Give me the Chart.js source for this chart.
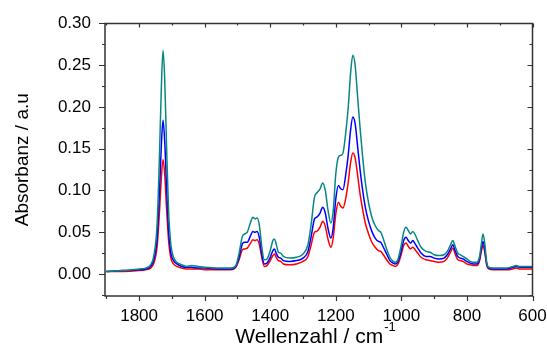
<!DOCTYPE html>
<html>
<head>
<meta charset="utf-8">
<script src="https://cdn.jsdelivr.net/npm/chart.js@4.4.1/dist/chart.umd.min.js"></script>
<style>
html,body{margin:0;padding:0;background:#fff;}
#wrap{width:547px;height:349px;position:relative;}
</style>
</head>
<body>
<div id="wrap"><canvas id="c" width="547" height="349"></canvas></div>
<script>
const wavenumbers = [1900,1850,1800,1780,1765,1755,1745,1738,1732,1727,1722,1716,1710,1703,1695,1685,1670,1655,1640,1620,1600,1560,1520,1505,1495,1485,1478,1470,1460,1453,1447,1440,1433,1425,1418,1410,1400,1392,1387,1382,1375,1368,1360,1340,1320,1300,1285,1275,1265,1258,1248,1240,1232,1224,1215,1208,1200,1192,1185,1178,1170,1162,1155,1148,1141,1134,1126,1118,1110,1100,1090,1080,1070,1063,1055,1045,1035,1025,1018,1010,1000,993,986,979,972,965,958,950,940,925,912,900,885,870,860,850,843,836,828,820,812,800,790,780,770,762,756,751,746,740,734,720,700,680,660,650,640,620,600];

const tealValues = [0.003,0.004,0.006,0.007,0.011,0.022,0.060,0.140,0.225,0.268,0.235,0.150,0.075,0.035,0.020,0.014,0.011,0.009,0.010,0.009,0.008,0.007,0.007,0.010,0.025,0.045,0.048,0.050,0.062,0.068,0.066,0.067,0.058,0.030,0.017,0.018,0.028,0.040,0.042,0.036,0.026,0.025,0.021,0.019,0.020,0.024,0.035,0.060,0.092,0.097,0.102,0.109,0.100,0.077,0.061,0.075,0.120,0.140,0.142,0.145,0.168,0.200,0.240,0.262,0.250,0.215,0.175,0.140,0.110,0.085,0.068,0.058,0.052,0.050,0.042,0.030,0.020,0.015,0.014,0.018,0.035,0.050,0.056,0.052,0.048,0.051,0.047,0.040,0.032,0.027,0.026,0.023,0.022,0.023,0.027,0.035,0.040,0.033,0.025,0.023,0.021,0.018,0.015,0.014,0.014,0.020,0.036,0.048,0.038,0.015,0.008,0.007,0.007,0.007,0.009,0.010,0.009,0.009,0.009];

const blueValues = [0.003,0.004,0.005,0.006,0.009,0.017,0.043,0.097,0.155,0.184,0.160,0.102,0.052,0.025,0.016,0.012,0.009,0.008,0.008,0.007,0.007,0.006,0.006,0.009,0.020,0.036,0.038,0.038,0.046,0.051,0.050,0.051,0.043,0.022,0.012,0.013,0.020,0.028,0.030,0.025,0.020,0.019,0.016,0.015,0.016,0.019,0.027,0.045,0.066,0.068,0.073,0.080,0.073,0.055,0.043,0.055,0.090,0.106,0.102,0.101,0.118,0.143,0.172,0.188,0.180,0.155,0.125,0.100,0.080,0.063,0.051,0.043,0.039,0.038,0.032,0.024,0.016,0.013,0.012,0.015,0.028,0.040,0.044,0.040,0.037,0.040,0.036,0.031,0.025,0.021,0.021,0.019,0.018,0.019,0.023,0.030,0.035,0.028,0.021,0.019,0.018,0.015,0.013,0.012,0.012,0.017,0.030,0.039,0.031,0.013,0.007,0.006,0.006,0.006,0.008,0.009,0.008,0.008,0.008];

const redValues = [0.003,0.003,0.004,0.005,0.007,0.013,0.033,0.073,0.116,0.137,0.120,0.077,0.040,0.019,0.012,0.009,0.007,0.006,0.006,0.006,0.005,0.005,0.005,0.008,0.017,0.029,0.030,0.031,0.037,0.041,0.040,0.041,0.035,0.018,0.009,0.010,0.016,0.022,0.024,0.020,0.016,0.015,0.012,0.011,0.012,0.015,0.021,0.035,0.050,0.051,0.056,0.063,0.057,0.042,0.032,0.043,0.072,0.086,0.081,0.079,0.090,0.110,0.133,0.145,0.139,0.120,0.096,0.077,0.061,0.048,0.038,0.032,0.028,0.027,0.023,0.017,0.012,0.010,0.009,0.012,0.024,0.034,0.037,0.033,0.030,0.032,0.029,0.025,0.020,0.017,0.016,0.015,0.014,0.015,0.019,0.026,0.031,0.024,0.017,0.016,0.015,0.012,0.011,0.010,0.010,0.015,0.027,0.034,0.027,0.011,0.006,0.005,0.005,0.005,0.006,0.007,0.006,0.006,0.006];

const xTickLabels = [1800,1600,1400,1200,1000,800,600];
const yTickLabels = [0.00,0.05,0.10,0.15,0.20,0.25,0.30];
const xTitle = "Wellenzahl / cm";
const xTitleSup = "-1";
const yTitle = "Absorbanz / a.u";

function pts(vals){ return wavenumbers.map((w,i)=>({x:w,y:vals[i]})); }

const FONT = "'Liberation Sans', Arial, sans-serif";

const frameTicks = {
  id:'frameTicks',
  afterDraw(chart){
    const ctx = chart.ctx, a = chart.chartArea;
    const xs = chart.scales.x, ys = chart.scales.y;
    ctx.save();
    ctx.strokeStyle = '#333';
    ctx.lineWidth = 1.5;
    ctx.strokeRect(a.left, a.top, a.right-a.left, a.bottom-a.top);
    ctx.lineWidth = 1.2;
    ctx.beginPath();
    for(let v=1900; v>=600; v-=100){
      const p = Math.round(xs.getPixelForValue(v))+0.5;
      const major = v%200===0;
      const lb = major?5:3, lt = major?4:2;
      ctx.moveTo(p,a.bottom); ctx.lineTo(p,a.bottom+lb);
      ctx.moveTo(p,a.top); ctx.lineTo(p,a.top+lt);
    }
    for(let k=-1; k<=12; k++){
      const v = k*0.025;
      const p = Math.round(ys.getPixelForValue(v))+0.5;
      if(p>a.bottom+0.5||p<a.top-0.5) continue;
      const major = k%2===0;
      const ll = major?6:3, lr = major?5:3;
      ctx.moveTo(a.left-ll,p); ctx.lineTo(a.left,p);
      ctx.moveTo(a.right,p); ctx.lineTo(a.right-lr,p);
    }
    ctx.stroke();
    // titles
    ctx.fillStyle = '#000';
    ctx.font = '21px ' + FONT;
    ctx.textBaseline = 'middle';
    const w1 = ctx.measureText(xTitle).width;
    ctx.font = '13px ' + FONT;
    const w2 = ctx.measureText(xTitleSup).width;
    const cx = 315;
    const sx = cx - (w1+w2)/2;
    ctx.font = '21px ' + FONT;
    ctx.textAlign = 'left';
    ctx.fillText(xTitle, sx, 337);
    ctx.font = '13px ' + FONT;
    ctx.fillText(xTitleSup, sx+w1+1, 327);
    ctx.translate(23, (a.top+a.bottom)/2 - 0);
    ctx.rotate(-Math.PI/2);
    ctx.font = '19px ' + FONT;
    ctx.textAlign = 'center';
    ctx.fillText(yTitle, 0, 0);
    ctx.restore();
  }
};

new Chart(document.getElementById('c'), {
  type:'line',
  data:{
    datasets:[
      {label:'teal', data:pts(tealValues), borderColor:'#088782', borderWidth:1.5},
      {label:'blue', data:pts(blueValues), borderColor:'#0000ff', borderWidth:1.5},
      {label:'red', data:pts(redValues), borderColor:'#ff0000', borderWidth:1.5}
    ]
  },
  options:{
    responsive:false,
    animation:false,
    parsing:true,
    elements:{point:{radius:0}, line:{cubicInterpolationMode:'monotone', fill:false}},
    layout:{padding:{top:23.5, right:14.5, left:0, bottom:0}},
    plugins:{legend:{display:false}, tooltip:{enabled:false}},
    scales:{
      x:{
        type:'linear', reverse:true, min:600, max:1904,
        grid:{display:false, drawTicks:false}, border:{display:false},
        afterBuildTicks(s){ s.ticks = xTickLabels.map(v=>({value:v})); },
        afterFit(s){ s.height = 53; s.paddingLeft = 0; s.paddingRight = 0; },
        ticks:{padding:10, maxRotation:0, autoSkip:false, color:'#000', font:{family:FONT, size:17},
          callback(v){ return String(v); }}
      },
      y:{
        type:'linear', min:-0.0264, max:0.30,
        grid:{display:false, drawTicks:false}, border:{display:false},
        afterBuildTicks(s){ s.ticks = yTickLabels.map(v=>({value:v})); },
        afterFit(s){ s.width = 105; s.paddingTop = 0; s.paddingBottom = 0; },
        ticks:{padding:14, autoSkip:false, color:'#000', font:{family:FONT, size:17},
          callback(v){ return Number(v).toFixed(2); }}
      }
    }
  },
  plugins:[frameTicks]
});
</script>
</body>
</html>
